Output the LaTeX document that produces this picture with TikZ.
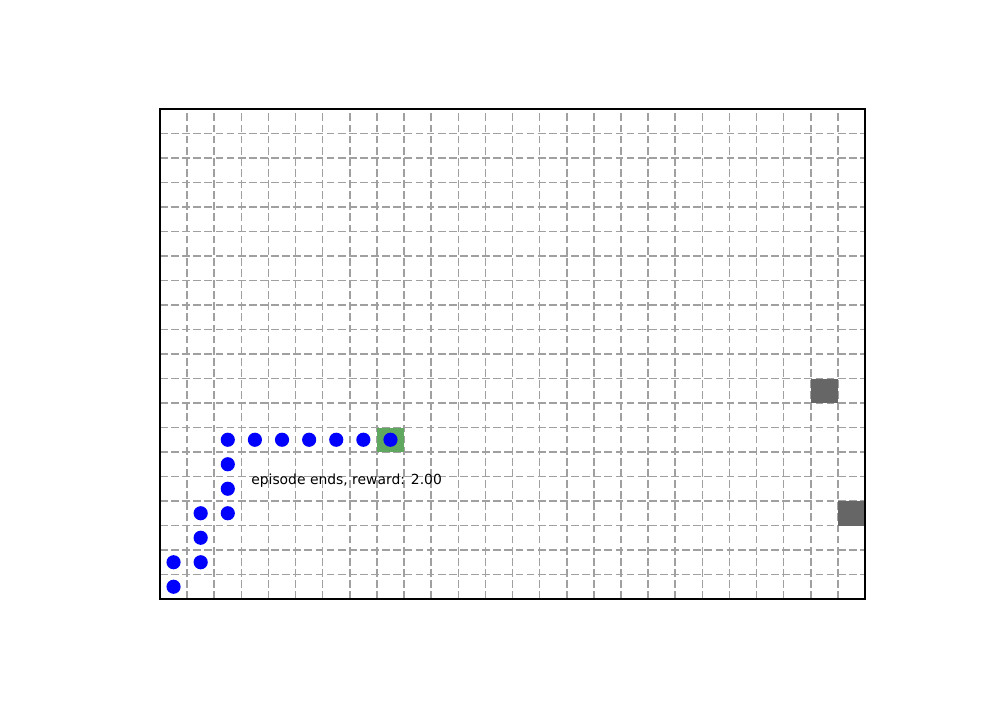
\documentclass[tikz,border=0pt]{standalone}
\usepackage{fontspec}
\setmainfont{DejaVu Sans}
\definecolor{gridgray}{RGB}{160,160,160}
\definecolor{goalgreen}{RGB}{96,168,96}
\definecolor{wallgray}{RGB}{102,102,102}
\definecolor{dotblue}{RGB}{0,0,255}
\tikzset{
  gridline/.style={draw=gridgray, line width=1.1pt, dash pattern=on 5.6pt off 2.4pt},
  dotnode/.style={circle, fill=dotblue, inner sep=0pt, minimum size=10.2pt},
  goalcell/.style={fill=goalgreen},
  wallcell/.style={fill=wallgray},
  lbl/.style={anchor=west, inner sep=0pt, font=\fontsize{10pt}{12pt}\selectfont}
}
\begin{document}
\begin{tikzpicture}[x=19.523pt, y=17.64pt]
\useasboundingbox (-5.9008,-4.1224) rectangle (30.979,24.449);
\fill[white] (-5.9008,-4.1224) rectangle (30.979,24.449);
% grid
\foreach \i in {1,...,25} { \draw[gridline] (\i,0) -- (\i,20); }
\foreach \j in {1,...,19} { \draw[gridline] (0,\j) -- (26,\j); }
% cells
\fill[goalcell] (8,6) rectangle (9,7);
\fill[wallcell] (24,8) rectangle (25,9);
\fill[wallcell] (25,3) rectangle (26,4);
% path dots
\foreach \n/\x/\y in {0/0/0, 1/0/1, 2/1/1, 3/1/2, 4/1/3, 5/2/3, 6/2/4, 7/2/5, 8/2/6, 9/3/6, 10/4/6, 11/5/6, 12/6/6, 13/7/6, 14/8/6} {
  \node[dotnode] (d\n) at (\x+0.5,\y+0.5) {};
}
\node[lbl] (msg) at (3.356,4.82) {episode ends, reward: 2.00};
% frame
\draw[black, line width=1pt] (0,0) rectangle (26,20);
\end{tikzpicture}
\end{document}
